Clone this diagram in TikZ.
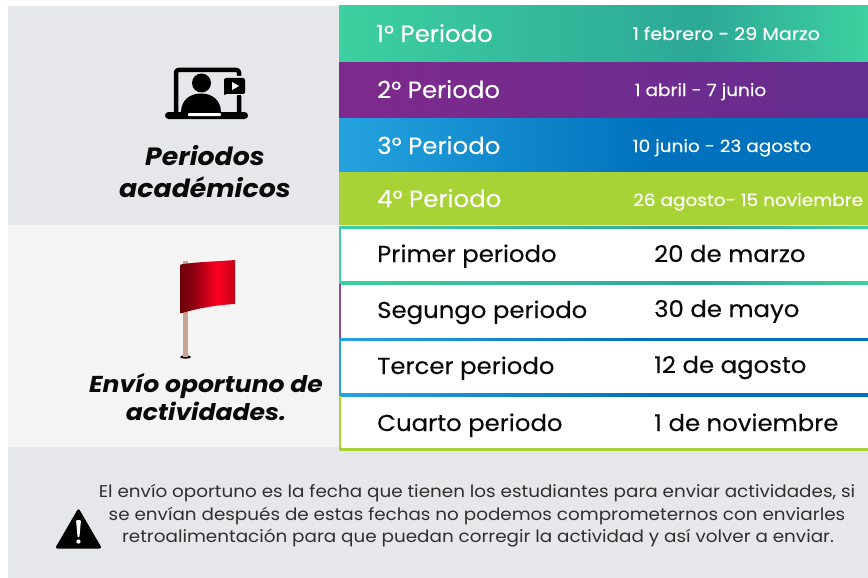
\documentclass[tikz,border=0pt]{standalone}
\usepackage{fontspec}
\setmainfont{Poppins}
\newfontfamily\fBand[FakeStretch=1.04,FakeBold=0.15]{Poppins}
\newfontfamily\fDate[FakeStretch=1.094,FakeBold=0.2]{Poppins}
\newfontfamily\fRow[FakeStretch=1.06,FakeBold=0.2]{Poppins}
\newfontfamily\fHead[FakeStretch=1.07]{Poppins}
\newfontfamily\fHeadS[FakeStretch=1.09]{Poppins}
\newfontfamily\fNote[FakeStretch=1.08]{Poppins}
\definecolor{panelA}{HTML}{E6E7EB}
\definecolor{panelB}{HTML}{F4F4F5}
\definecolor{ink}{HTML}{0A0A0A}
\definecolor{limeC}{HTML}{A8D336}
\definecolor{gA}{HTML}{3DD0A0}
\definecolor{gB}{HTML}{2CA897}
\definecolor{pA}{HTML}{7E2A8C}
\definecolor{pB}{HTML}{652D90}
\definecolor{bA}{HTML}{25A3DF}
\definecolor{bB}{HTML}{0071BC}
\definecolor{fA}{HTML}{6E0008}
\definecolor{fB}{HTML}{8A0010}
\definecolor{fC}{HTML}{FF0022}
\definecolor{fD}{HTML}{C00018}
\definecolor{poleC}{HTML}{C9A392}
\pgfdeclarehorizontalshading{sGreen}{100bp}{color(0bp)=(gA);color(25bp)=(gA);color(59bp)=(gB);color(75bp)=(gA);color(100bp)=(gA)}
\pgfdeclarehorizontalshading{sPurple}{100bp}{color(0bp)=(pA);color(25bp)=(pA);color(75bp)=(pB);color(100bp)=(pB)}
\pgfdeclarehorizontalshading{sBlue}{100bp}{color(0bp)=(bA);color(25bp)=(bA);color(55bp)=(bB);color(100bp)=(bB)}
\pgfdeclarehorizontalshading{sFlag}{100bp}{color(0bp)=(fA);color(25bp)=(fA);color(36bp)=(fB);color(59bp)=(fC);color(75bp)=(fD);color(100bp)=(fD)}
\tikzset{
  x=1pt,y=-1pt,
  band/.style={text=white,anchor=base west,inner sep=0pt,font=\fBand\fontsize{23.5}{24}\selectfont},
  bandDate/.style={text=white,anchor=base west,inner sep=0pt,font=\fDate\fontsize{17.5}{18}\selectfont},
  bandDateS/.style={bandDate,font=\fDate\fontsize{16.9}{18}\selectfont},
  rowText/.style={text=ink,anchor=base west,inner sep=0pt,font=\fRow\fontsize{23}{24}\selectfont},
  heading/.style={text=ink,anchor=base,inner sep=0pt,font=\fHead\fontsize{25}{26}\selectfont\bfseries\itshape},
  headingS/.style={text=ink,anchor=base,inner sep=0pt,font=\fHeadS\fontsize{23}{26}\selectfont\bfseries\itshape},
  note/.style={text=ink!85,anchor=base,inner sep=0pt,font=\fNote\fontsize{17}{18}\selectfont},
}
\begin{document}
\begin{tikzpicture}
\useasboundingbox (0,0) rectangle (868,578);
\fill[white] (0,0) rectangle (868,578);
% panels
\fill[panelA] (8,6) rectangle (339,225);
\fill[panelB] (8,225) rectangle (339,447);
\fill[panelA] (8,447) rectangle (868,578);
% bands
\shade[shading=sGreen] (339,6) rectangle (868,63);
\shade[shading=sPurple] (339,63) rectangle (868,118);
\shade[shading=sBlue] (339,118) rectangle (868,172);
\fill[limeC] (339,172) rectangle (868,225);
% white rows
\fill[white] (339,226) rectangle (868,450);
% row borders
\shade[shading=sGreen] (339,226) rectangle (868,228.2);
\shade[shading=sGreen] (339,281.8) rectangle (868,284);
\fill[gA] (339,226) rectangle (341.2,284);
\fill[pA!85!white] (339,284) rectangle (341.2,338);
\shade[shading=sBlue] (339,338) rectangle (868,340.2);
\fill[bA] (339,338) rectangle (341.2,396);
\shade[shading=sBlue] (339,393.8) rectangle (868,396);
\fill[limeC] (339,396) rectangle (341.2,450.5);
\fill[limeC] (339,448.3) rectangle (868,450.5);
% band texts
\node[band] (p1) at (376,42) {1° Periodo};
\node[band] (p2) at (377,98) {2° Periodo};
\node[band] (p3) at (377,154) {3° Periodo};
\node[band] (p4) at (377,207) {4° Periodo};
\node[bandDate] (d1) at (632.5,40) {1 febrero - 29 Marzo};
\node[bandDateS] (d2) at (634.5,96) {1 abril - 7 junio};
\node[bandDateS] (d3) at (632.5,152) {10 junio - 23 agosto};
\node[bandDateS] (d4) at (633,206) {26 agosto- 15 noviembre};
% row texts
\node[rowText] (r1) at (377,262) {Primer periodo};
\node[rowText] (r2) at (377,318) {Segungo periodo};
\node[rowText] (r3) at (377,374) {Tercer periodo};
\node[rowText] (r4) at (377,431) {Cuarto periodo};
\node[rowText] (f1) at (654,262) {20 de marzo};
\node[rowText] (f2) at (654,317) {30 de mayo};
\node[rowText] (f3) at (654,373) {12 de agosto};
\node[rowText] (f4) at (654,431) {1 de noviembre};
% headings
\node[heading] (h1) at (205,165) {Periodos};
\node[heading] (h2) at (205,197) {académicos};
\node[headingS] (h3) at (206,392) {Envío oportuno de};
\node[headingS] (h4) at (206,420) {actividades.};
% note
\node[note] (n1) at (477,497) {El envío oportuno es la fecha que tienen los estudiantes para enviar actividades, si};
\node[note] (n2) at (477,520) {se envían después de estas fechas no podemos comprometernos con enviarles};
\node[note] (n3) at (478,542) {retroalimentación para que puedan corregir la actividad y así volver a enviar.};
% laptop icon
\draw[black,line width=4.5pt,line join=round,rounded corners=2.5pt] (176,114) -- (176,70) -- (239,70) -- (239,114);
\fill[black,rounded corners=3.5pt] (165,112) rectangle (248,119);
\fill[white,rounded corners=1pt] (188,113.2) rectangle (221,116.2);
\fill[black] (201.5,83) circle (9.5);
\fill[black] (181,112.5) .. controls (181,100) and (190,93.5) .. (201,93.5) .. controls (212,93.5) and (221,100) .. (221,112.5) -- cycle;
\fill[panelA,rounded corners=2pt] (222,76) rectangle (247,96);
\fill[black,rounded corners=2pt] (224,78) rectangle (245,94);
\fill[black] (224,90) -- (224,95) -- (229,93) -- cycle;
\fill[white] (232,82) -- (232,90) -- (239,86) -- cycle;
\draw[black,line width=4.5pt] (239,95) -- (239,112);
% flag
\fill[black] (185.5,357) ellipse (5.5 and 1.7);
\fill[poleC] (183.3,261) rectangle (187.5,357);
\fill[white] (190,262.8) .. controls (205,261.5) and (220,260.5) .. (235,258.5) -- (235,261) -- cycle;
\shade[shading=sFlag] (180.5,264.5) .. controls (195,262) and (215,261.5) .. (235,260) -- (235,304) .. controls (215,305) and (195,309) .. (180.5,313.5) -- cycle;
% warning
\fill[black,rounded corners=2.5pt] (78.5,508) -- (102,548.5) -- (55,548.5) -- cycle;
\fill[white,rounded corners=1pt] (76,520) -- (81,520) -- (79.4,537.5) -- (77.6,537.5) -- cycle;
\fill[white] (78.5,541.5) circle (2.1);
\end{tikzpicture}
\end{document}
